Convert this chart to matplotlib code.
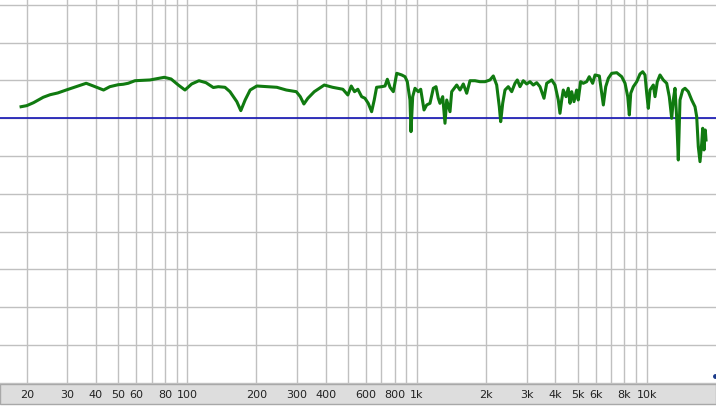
import numpy as np
import matplotlib
matplotlib.use("Agg")
import matplotlib.pyplot as plt
from matplotlib.patches import Rectangle

# frequency response (Hz, dB relative to the blue reference line)
freq = [18.9, 20, 21.4, 23.6, 25.3, 27.3, 29.7, 32.8, 36.3, 39.0,
        43.2, 46.0, 50, 52.6, 55.3, 59.2, 68.8, 79.4, 85, 91.4,
        97.7, 104.5, 112.4, 120.6, 129.8, 136.4, 145.9, 153.4, 164.3, 171,
        178.6, 187.8, 200.8, 222, 245.4, 269.7, 298.2, 310.4, 321.8, 335,
        357.2, 394.8, 429, 475.6, 500, 517.3, 534.7, 552.7, 574.2, 593.4,
        613.4, 634.6, 651.4, 667, 701.5, 725.7, 742.8, 763.2, 788.9, 816.2,
        858, 887, 907.4, 932, 941.6, 957.8, 980, 1013, 1038, 1073,
        1102, 1139, 1178, 1210, 1238, 1259, 1294, 1324, 1347, 1392,
        1416, 1489, 1539, 1591, 1646, 1701, 1788, 1880, 1977, 2078,
        2149, 2223, 2282, 2314, 2361, 2416, 2497, 2584, 2671, 2733,
        2808, 2902, 3003, 3104, 3208, 3320, 3431, 3572, 3670, 3859,
        3988, 4122, 4192, 4265, 4334, 4453, 4556, 4635, 4715, 4824,
        4955, 5035, 5157, 5293, 5478, 5622, 5817, 5958, 6220, 6372,
        6475, 6632, 6808, 7044, 7406, 7785, 8048, 8269, 8402, 8521,
        8746, 9050, 9351, 9607, 9831, 10000, 10162, 10336, 10685, 10868,
        11121, 11426, 11810, 12220, 12542, 12848, 13055, 13280, 13508, 13727,
        13962, 14346, 14680, 15174, 15700, 16229, 16507, 16774, 17063, 17356,
        17531, 17760, 17994, 18120]
level = [1.53, 1.67, 2.06, 2.78, 3.12, 3.35, 3.74, 4.18, 4.63, 4.27,
         3.74, 4.18, 4.44, 4.50, 4.63, 4.97, 5.07, 5.42, 5.20, 4.40,
         3.74, 4.54, 4.97, 4.71, 4.07, 4.18, 4.10, 3.52, 2.20, 1.01,
         2.42, 3.74, 4.27, 4.18, 4.10, 3.74, 3.52, 2.86, 1.89, 2.65,
         3.52, 4.40, 4.10, 3.84, 3.08, 4.27, 3.52, 3.84, 2.86, 2.65,
         1.98, 0.87, 2.42, 4.10, 4.18, 4.27, 5.16, 4.10, 3.52, 5.95,
         5.73, 5.50, 4.84, 2.42, -1.77, 2.86, 3.97, 3.52, 3.84, 1.10,
         1.76, 1.98, 3.97, 4.18, 2.65, 1.98, 2.86, -0.66, 2.42, 0.87,
         3.52, 4.40, 3.74, 4.54, 3.31, 4.97, 4.97, 4.84, 4.84, 5.07,
         5.60, 4.40, 1.53, -0.45, 1.98, 3.74, 4.18, 3.52, 4.63, 5.07,
         4.18, 4.97, 4.54, 4.84, 4.40, 4.71, 4.18, 2.65, 4.63, 5.07,
         4.40, 2.42, 0.66, 2.42, 3.74, 2.86, 3.97, 1.98, 3.52, 2.20,
         3.74, 2.42, 4.84, 4.63, 4.84, 5.50, 4.63, 5.73, 5.60, 3.31,
         1.76, 4.18, 5.29, 5.95, 6.03, 5.50, 4.63, 2.86, 0.44, 3.31,
         4.18, 4.84, 5.86, 6.16, 5.73, 3.31, 1.32, 3.74, 4.40, 2.86,
         4.84, 5.73, 5.07, 4.63, 2.86, 0.0, 2.42, 3.97, 0.0, -5.52,
         2.42, 3.74, 3.97, 3.52, 2.42, 1.53, 0.21, -3.76, -5.74, -3.31,
         -1.32, -4.19, -1.55, -2.87]

grid_freqs = [20, 30, 40, 50, 60, 70, 80, 90, 100,
              200, 300, 400, 500, 600, 700, 800, 900, 1000,
              2000, 3000, 4000, 5000, 6000, 7000, 8000, 9000, 10000]
grid_labels = ["20", "30", "40", "50", "60", "", "80", "", "100",
               "200", "300", "400", "", "600", "", "800", "", "1k",
               "2k", "3k", "4k", "5k", "6k", "", "8k", "", "10k"]
level_grid = [-35, -30, -25, -20, -15, -10, -5, 0, 5, 10, 15]

fig = plt.figure(figsize=(7.16, 4.11), dpi=100)
ax = fig.add_axes([0, 26.7 / 411, 1, 384.3 / 411])

# bottom bar with the frequency labels
bar = Rectangle((0, 7 / 411), 1, 19.7 / 411, transform=fig.transFigure,
                facecolor="#dddddd", edgecolor="#a8a8a8", lw=1, zorder=-1)
fig.patches.append(bar)

ax.set_xscale("log")
ax.set_xlim(15.3, 20030)
ax.set_ylim(-35.2, 15.65)
ax.set_xticks(grid_freqs, labels=grid_labels)
ax.xaxis.set_minor_locator(plt.NullLocator())
ax.set_yticks(level_grid)
ax.tick_params(axis="x", length=0, pad=4, labelsize=8, labelcolor="#222222")
ax.tick_params(axis="y", length=0, labelleft=False)
ax.grid(True, color="#c0c0c0", lw=1)
for s in ax.spines.values():
    s.set_visible(False)
ax.set_facecolor("white")

ax.axhline(0, color="#1414b4", lw=1.2, zorder=3)
ax.plot(freq, level, color="#107a10", lw=2.2, zorder=4)

# small cursor dot at the right edge
ax.plot([19900], [-34.1], "o", color="#1a3a8a", ms=2.5, clip_on=False)

fig.savefig("out.png", dpi=100)
